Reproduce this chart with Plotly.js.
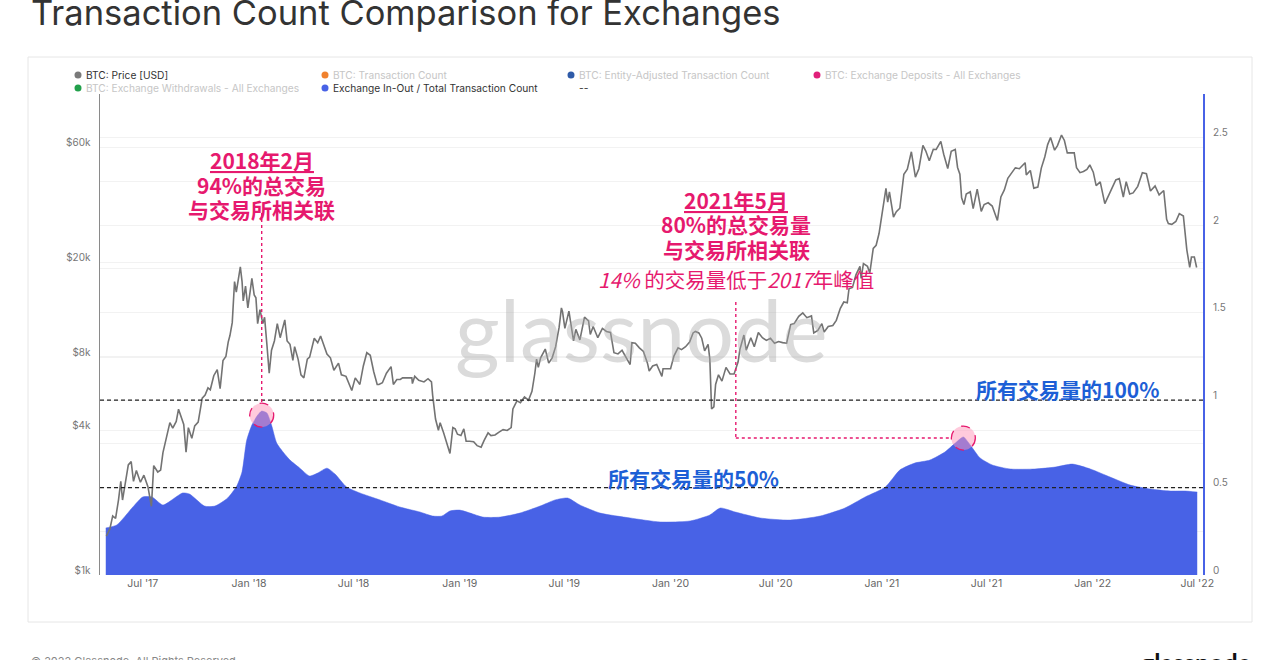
<!DOCTYPE html>
<html>
<head>
<meta charset="utf-8">
<script src="https://cdn.plot.ly/plotly-3.0.1.min.js"></script>
<style>html,body{margin:0;padding:0;background:#fff;}#chart{width:1280px;height:660px;}</style>
</head>
<body>
<div id="chart"></div>
<script>
// ---------------- DATA ----------------
const priceDates = ["2017-04-29","2017-05-05","2017-05-10","2017-05-15","2017-05-20","2017-05-24","2017-05-27","2017-06-01","2017-06-06","2017-06-11","2017-06-15","2017-06-20","2017-06-27","2017-07-03","2017-07-10","2017-07-16","2017-07-20","2017-07-27","2017-08-01","2017-08-05","2017-08-12","2017-08-17","2017-08-22","2017-08-28","2017-09-01","2017-09-05","2017-09-10","2017-09-14","2017-09-18","2017-09-24","2017-09-29","2017-10-05","2017-10-12","2017-10-17","2017-10-22","2017-10-26","2017-11-01","2017-11-07","2017-11-12","2017-11-17","2017-11-22","2017-11-26","2017-11-29","2017-12-03","2017-12-07","2017-12-10","2017-12-13","2017-12-17","2017-12-20","2017-12-22","2017-12-26","2017-12-30","2018-01-03","2018-01-06","2018-01-10","2018-01-13","2018-01-16","2018-01-20","2018-01-25","2018-01-28","2018-02-01","2018-02-05","2018-02-09","2018-02-14","2018-02-19","2018-02-24","2018-03-04","2018-03-08","2018-03-13","2018-03-18","2018-03-21","2018-03-27","2018-04-01","2018-04-06","2018-04-12","2018-04-16","2018-04-24","2018-04-30","2018-05-05","2018-05-10","2018-05-16","2018-05-22","2018-05-28","2018-06-05","2018-06-10","2018-06-18","2018-06-24","2018-06-28","2018-07-04","2018-07-12","2018-07-18","2018-07-24","2018-07-30","2018-08-05","2018-08-11","2018-08-14","2018-08-20","2018-08-27","2018-09-04","2018-09-08","2018-09-14","2018-09-20","2018-09-24","2018-10-01","2018-10-10","2018-10-11","2018-10-15","2018-10-22","2018-10-31","2018-11-07","2018-11-13","2018-11-15","2018-11-20","2018-11-25","2018-11-28","2018-12-04","2018-12-10","2018-12-15","2018-12-20","2018-12-24","2018-12-28","2019-01-03","2019-01-08","2019-01-12","2019-01-18","2019-01-25","2019-01-31","2019-02-07","2019-02-12","2019-02-19","2019-02-24","2019-03-03","2019-03-10","2019-03-17","2019-03-24","2019-03-31","2019-04-03","2019-04-10","2019-04-16","2019-04-23","2019-04-30","2019-05-06","2019-05-11","2019-05-14","2019-05-17","2019-05-21","2019-05-29","2019-06-04","2019-06-10","2019-06-16","2019-06-22","2019-06-26","2019-06-28","2019-07-02","2019-07-09","2019-07-14","2019-07-17","2019-07-21","2019-07-28","2019-08-05","2019-08-12","2019-08-15","2019-08-20","2019-08-28","2019-09-05","2019-09-12","2019-09-19","2019-09-25","2019-10-02","2019-10-09","2019-10-16","2019-10-23","2019-10-26","2019-11-01","2019-11-08","2019-11-15","2019-11-22","2019-11-25","2019-12-01","2019-12-08","2019-12-17","2019-12-19","2019-12-26","2020-01-01","2020-01-07","2020-01-14","2020-01-20","2020-01-27","2020-02-03","2020-02-09","2020-02-13","2020-02-19","2020-02-24","2020-02-29","2020-03-06","2020-03-09","2020-03-12","2020-03-16","2020-03-19","2020-03-24","2020-03-30","2020-04-06","2020-04-13","2020-04-20","2020-04-27","2020-04-30","2020-05-07","2020-05-11","2020-05-19","2020-05-25","2020-06-01","2020-06-08","2020-06-15","2020-06-22","2020-06-29","2020-07-06","2020-07-13","2020-07-20","2020-07-27","2020-08-02","2020-08-10","2020-08-17","2020-08-24","2020-09-01","2020-09-05","2020-09-12","2020-09-19","2020-09-23","2020-09-30","2020-10-08","2020-10-14","2020-10-21","2020-10-27","2020-11-02","2020-11-05","2020-11-11","2020-11-17","2020-11-24","2020-11-26","2020-11-30","2020-12-07","2020-12-11","2020-12-17","2020-12-22","2020-12-27","2021-01-02","2021-01-08","2021-01-11","2021-01-14","2021-01-21","2021-01-26","2021-02-01","2021-02-08","2021-02-14","2021-02-21","2021-02-28","2021-03-06","2021-03-13","2021-03-18","2021-03-24","2021-03-31","2021-04-05","2021-04-13","2021-04-18","2021-04-25","2021-05-01","2021-05-08","2021-05-12","2021-05-16","2021-05-19","2021-05-23","2021-05-27","2021-06-03","2021-06-08","2021-06-15","2021-06-22","2021-06-27","2021-07-04","2021-07-11","2021-07-20","2021-07-26","2021-08-01","2021-08-07","2021-08-14","2021-08-20","2021-08-27","2021-09-06","2021-09-08","2021-09-15","2021-09-21","2021-09-28","2021-10-04","2021-10-10","2021-10-15","2021-10-20","2021-10-27","2021-11-01","2021-11-08","2021-11-13","2021-11-18","2021-11-24","2021-11-30","2021-12-04","2021-12-10","2021-12-16","2021-12-22","2021-12-27","2022-01-02","2022-01-07","2022-01-14","2022-01-22","2022-01-28","2022-02-05","2022-02-10","2022-02-16","2022-02-23","2022-02-28","2022-03-06","2022-03-12","2022-03-20","2022-03-28","2022-04-04","2022-04-11","2022-04-19","2022-04-26","2022-05-04","2022-05-09","2022-05-12","2022-05-18","2022-05-25","2022-05-31","2022-06-07","2022-06-13","2022-06-18","2022-06-21","2022-06-26","2022-06-30"];
const priceUSD = [1450,1550,1760,1720,2050,2450,2050,2400,2870,2960,2450,2720,2430,2600,2330,1930,2850,2680,2730,3230,3880,4300,4080,4350,4890,4600,4230,3240,4100,3700,4170,4320,5440,5600,6000,5890,6740,7140,5950,7800,8100,9300,9900,11200,16600,15000,16400,19100,16600,13800,15900,12900,15100,17100,14600,14200,11100,12700,11100,11800,9100,6900,8600,9400,11100,9700,11500,9400,9100,7800,8900,7900,6800,6600,7900,8050,9650,9240,9850,9050,8300,8000,7100,7600,6800,6700,6100,5850,6600,6200,7400,8400,8200,7000,6200,6200,6300,6900,7350,6200,6500,6500,6600,6600,6600,6250,6700,6450,6350,6550,6350,5600,4450,4000,4300,3900,3500,3200,4100,4050,3850,3800,4050,3600,3600,3580,3450,3400,3620,3900,3800,3820,3930,4020,3990,4100,4900,5300,5200,5500,5330,5800,6900,7900,7300,8000,8700,7600,8000,8900,10700,12900,12400,10600,12500,10200,9400,10500,9500,11800,11400,10000,10800,9700,10600,10300,10200,8400,8300,8600,8000,7500,9250,9200,8800,8500,7600,7050,7400,7500,6700,7200,7200,7200,8150,8800,8650,8900,9300,10150,10300,10150,9650,8550,9100,7900,4900,5000,6200,6800,6400,7300,6850,6850,7700,8650,9950,8600,9700,8900,10200,9700,9450,9650,9190,9350,9250,9200,11000,11100,11900,12300,11750,11950,10150,10400,11100,10250,10800,10900,11450,12850,13650,13550,15500,15700,17700,19200,17100,19700,19200,18000,22800,23500,26300,32100,40500,35500,39200,30800,32400,33500,46400,48700,57500,45100,48900,61200,57900,52800,58900,58800,63500,56200,49000,57800,58800,49500,46400,37000,34700,38400,39200,33400,40200,32500,34700,35300,34200,29800,37300,39900,44600,47100,49300,48900,51800,46100,48100,40600,41000,49200,54700,61600,65900,58400,61000,67500,64100,56900,57100,57000,49400,47100,47600,48600,50700,47300,41600,43100,35000,37700,41400,43900,44500,37300,43200,38400,38800,41300,47100,46600,39500,41500,38100,39700,30100,28900,28700,29500,31800,31100,22500,19000,21000,21000,19000];

const ratioDates = ["2017-04-28","2017-05-17","2017-06-14","2017-07-01","2017-07-17","2017-08-05","2017-08-25","2017-09-08","2017-09-20","2017-10-16","2017-11-03","2017-11-25","2017-12-11","2017-12-20","2017-12-28","2018-01-06","2018-01-15","2018-01-23","2018-02-01","2018-02-09","2018-02-18","2018-03-01","2018-03-13","2018-03-30","2018-04-16","2018-04-30","2018-05-16","2018-05-30","2018-06-19","2018-07-12","2018-08-16","2018-09-19","2018-10-24","2018-11-15","2018-12-01","2018-12-15","2019-01-01","2019-01-19","2019-02-10","2019-03-12","2019-04-15","2019-05-20","2019-06-15","2019-07-07","2019-07-28","2019-09-01","2019-10-23","2019-12-14","2020-02-04","2020-03-09","2020-03-27","2020-04-22","2020-06-04","2020-07-26","2020-09-16","2020-10-29","2020-12-03","2021-01-07","2021-02-01","2021-02-27","2021-03-25","2021-04-20","2021-05-08","2021-05-22","2021-06-03","2021-06-20","2021-07-11","2021-08-11","2021-09-23","2021-10-28","2021-11-27","2021-12-28","2022-01-31","2022-03-07","2022-04-11","2022-05-15","2022-06-10","2022-07-01"];
const ratioValues = [0.269,0.286,0.389,0.446,0.446,0.40,0.44,0.469,0.463,0.394,0.394,0.44,0.51,0.59,0.77,0.857,0.909,0.937,0.926,0.857,0.754,0.703,0.657,0.611,0.566,0.583,0.611,0.577,0.503,0.469,0.429,0.389,0.36,0.337,0.337,0.366,0.371,0.354,0.331,0.331,0.354,0.394,0.429,0.44,0.40,0.354,0.326,0.303,0.309,0.343,0.383,0.36,0.326,0.314,0.337,0.383,0.446,0.503,0.60,0.64,0.657,0.703,0.754,0.789,0.743,0.669,0.629,0.606,0.606,0.617,0.634,0.606,0.56,0.514,0.491,0.48,0.48,0.474];

const legendNames = ["BTC: Price [USD]","BTC: Transaction Count","BTC: Entity-Adjusted Transaction Count","BTC: Exchange Deposits - All Exchanges","BTC: Exchange Withdrawals - All Exchanges","Exchange In-Out / Total Transaction Count","--"];
const legendColors = ["#7a7a7a","#f0812e","#2f5ba8","#e0207a","#22a04b","#4862e6",null];
const legendActive = [true,false,false,false,false,true,true];

const priceTickVals = [1000,4000,8000,20000,60000];
const priceTickText = ["$1k","$4k","$8k","$20k","$60k"];
const ratioTickVals = [0,0.5,1,1.5,2,2.5];
const ratioTickText = ["0","0.5","1","1.5","2","2.5"];

const peak2018 = {date:"2018-01-23", value:0.914};
const peak2021 = {date:"2021-05-22", value:0.783};

// ---------------- LAYOUT HELPERS ----------------
const W = 1280, H = 660, ML = 100, MR = 77, MT = 94, MB = 85;
const PW = W - ML - MR, PH = H - MT - MB;
const px = x => (x - ML) / PW;
const py = y => (H - MB - y) / PH;
const ry = y => (H - MB - y) / PH * 2.75; // pixel -> ratio axis value

const PINK = "#e6196e", BLUE_TXT = "#1d5fd6", AREA = "#4862e6";
const CJK = "'Noto Sans CJK SC', 'Noto Sans', sans-serif";

const traces = [
  {x: ratioDates, y: ratioValues, type:"scatter", mode:"lines", yaxis:"y",
   fill:"tozeroy", fillcolor:AREA, line:{color:AREA, width:0.5, shape:"spline", smoothing:0.6},
   name: legendNames[5], hoverinfo:"skip"},
  {x: priceDates, y: priceUSD, type:"scatter", mode:"lines", yaxis:"y2",
   line:{color:"#737373", width:1.6}, name: legendNames[0], hoverinfo:"skip"}
];

const shapes = [];
const annotations = [];

// outer card border
shapes.push({type:"rect", xref:"paper", yref:"paper", x0:px(28), x1:px(1252), y0:py(622), y1:py(57),
  line:{color:"#e6e6e6", width:1}, fillcolor:"rgba(0,0,0,0)", layer:"below"});

// legend
const colX = [78, 325, 571, 817];
const rowY = [75, 88];
legendNames.forEach((nm, i) => {
  const c = i % 4, r = Math.floor(i / 4);
  const cx = colX[c], cy = rowY[r];
  if (legendColors[i]) {
    shapes.push({type:"circle", xref:"paper", yref:"paper", xsizemode:"pixel", ysizemode:"pixel",
      xanchor:px(cx), yanchor:py(cy), x0:-3.5, x1:3.5, y0:-3.5, y1:3.5,
      fillcolor:legendColors[i], line:{width:0}});
  }
  annotations.push({xref:"paper", yref:"paper", x:px(cx + 6), y:py(cy), xanchor:"left", yanchor:"middle",
    text:nm, showarrow:false, font:{family:"Inter, Roboto, sans-serif", size:10.2, color: legendActive[i] ? "#333" : "#c6c6c6"}});
});

// reference dashed lines (100% and 50%)
[1, 0.5].forEach(v => shapes.push({type:"line", xref:"paper", yref:"y", x0:0, x1:1, y0:v, y1:v,
  line:{color:"#222", width:1.3, dash:"4px,3px"}}));

// pink callouts
shapes.push({type:"line", xref:"x", yref:"y", x0:peak2018.date, x1:peak2018.date, y0:ry(213), y1:ry(403),
  line:{color:PINK, width:1.4, dash:"dot"}});
shapes.push({type:"line", xref:"x", yref:"y", x0:"2020-04-23", x1:"2020-04-23", y0:ry(302), y1:peak2021.value,
  line:{color:PINK, width:1.4, dash:"dot"}});
shapes.push({type:"line", xref:"x", yref:"y", x0:"2020-04-23", x1:"2021-05-01", y0:peak2021.value, y1:peak2021.value,
  line:{color:PINK, width:1.4, dash:"dot"}});
[peak2018, peak2021].forEach(p => shapes.push({type:"circle", xref:"x", yref:"y", xsizemode:"pixel", ysizemode:"pixel",
  xanchor:p.date, yanchor:p.value, x0:-12, x1:12, y0:-12, y1:12,
  fillcolor:"rgba(255,150,185,0.5)", line:{color:PINK, width:1.3, dash:"dash"}}));

// chart annotations text
const addTxt = (x, yPix, text, color, size, bold) => annotations.push({xref:"x", yref:"y", x:x, y:ry(yPix),
  text: bold ? "<b>" + text + "</b>" : text, showarrow:false, xanchor:"center", yanchor:"middle",
  font:{family:CJK, size:size, color:color}});
addTxt("2018-01-23", 160, "<u>2018年2月</u>", PINK, 21, true);
addTxt("2018-01-23", 185, "94%的总交易", PINK, 21, true);
addTxt("2018-01-23", 209, "与交易所相关联", PINK, 21, true);
addTxt("2020-04-24", 200, "<u>2021年5月</u>", PINK, 21, true);
addTxt("2020-04-24", 224, "80%的总交易量", PINK, 21, true);
addTxt("2020-04-24", 249, "与交易所相关联", PINK, 21, true);
addTxt("2020-04-24", 279, "<i>14%</i> 的交易量低于<i>2017</i>年峰值", PINK, 20.5, false);
addTxt("2021-11-18", 389, "所有交易量的100%", BLUE_TXT, 21, true);
addTxt("2020-02-09", 478, "所有交易量的50%", BLUE_TXT, 21, true);

// watermark
annotations.push({xref:"paper", yref:"paper", x:px(641), y:py(328), text:"glassnode", showarrow:false,
  xanchor:"center", yanchor:"middle", font:{family:"Lato, 'Open Sans', sans-serif", size:86, color:"rgba(170,170,170,0.42)"}});

// title and footer
annotations.push({xref:"paper", yref:"paper", x:px(29), y:py(12), xanchor:"left", yanchor:"middle", showarrow:false,
  text:"Transaction Count Comparison for Exchanges", font:{family:"Inter, 'Open Sans', sans-serif", size:34.5, color:"#333"}});
annotations.push({xref:"paper", yref:"paper", x:px(29), y:py(661), xanchor:"left", yanchor:"middle", showarrow:false,
  text:"© 2022 Glassnode. All Rights Reserved", font:{family:"Inter, Roboto, sans-serif", size:11, color:"#888"}});
annotations.push({xref:"paper", yref:"paper", x:px(1253), y:py(662), xanchor:"right", yanchor:"middle", showarrow:false,
  text:"<b>glassnode</b>", font:{family:"Lato, 'Open Sans', sans-serif", size:25, color:"#111"}});

const layout = {
  width:W, height:H, paper_bgcolor:"#fff", plot_bgcolor:"#fff",
  margin:{l:ML, r:MR, t:MT, b:MB, pad:0}, showlegend:false,
  font:{family:"Inter, Roboto, sans-serif", size:10, color:"#777"},
  xaxis:{type:"date", range:["2017-04-18","2022-07-11"], tick0:"2017-07-01", dtick:"M6", tickformat:"%b '%y",
    showgrid:false, zeroline:false, showline:false, ticks:"", tickfont:{size:10.5, color:"#666"}, fixedrange:true},
  yaxis:{side:"right", range:[0,2.75], tickmode:"array", tickvals:ratioTickVals, ticktext:ratioTickText,
    showline:true, linecolor:AREA, linewidth:2, showgrid:true, gridcolor:"#f2f2f2", gridwidth:1,
    minor:{tickmode:"linear", tick0:0, dtick:0.25, showgrid:true, gridcolor:"#f2f2f2", ticks:""},
    zeroline:false, ticks:"", tickfont:{size:10, color:"#777"}, ticklabelshift:-5, ticklabelstandoff:6},
  yaxis2:{overlaying:"y", side:"left", type:"log", range:[3,5], tickmode:"array", tickvals:priceTickVals, ticktext:priceTickText,
    showline:true, linecolor:"#8a8a8a", linewidth:1.5, showgrid:true, gridcolor:"#f2f2f2", zeroline:false, ticks:"",
    tickfont:{size:10, color:"#777"}, ticklabelshift:-5, ticklabelstandoff:6},
  shapes:shapes, annotations:annotations
};

Plotly.newPlot("chart", traces, layout, {displayModeBar:false, staticPlot:true});
</script>
</body>
</html>
